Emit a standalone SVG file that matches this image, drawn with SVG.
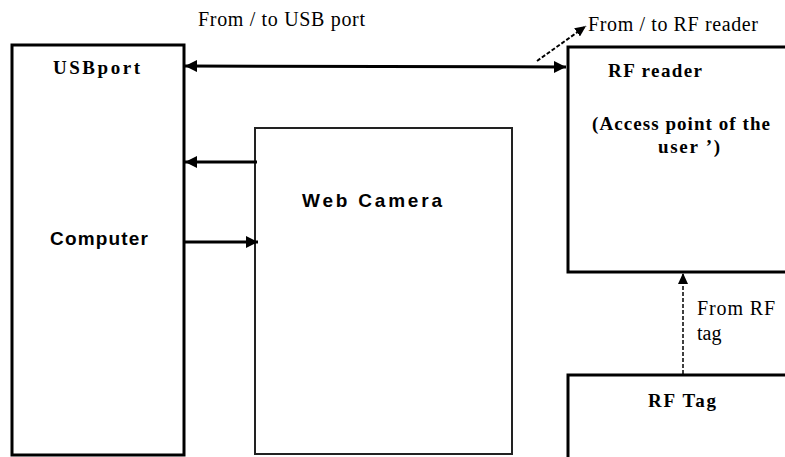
<svg xmlns="http://www.w3.org/2000/svg" width="785" height="457" viewBox="0 0 785 457">
<style>
.box{fill:#fff;stroke:#000;stroke-width:3}
.thin{fill:#fff;stroke:#222;stroke-width:2}
.serifb{font-family:"Liberation Serif","Times New Roman",serif;font-weight:bold;font-size:19px;fill:#000}
.sansb{font-family:"Liberation Sans",Arial,sans-serif;font-weight:bold;font-size:19px;fill:#000}
.serif{font-family:"Liberation Serif","Times New Roman",serif;font-size:20px;fill:#000}
.con{stroke:#000;stroke-width:3;fill:none}
.dash{stroke:#000;stroke-width:1.5;fill:none;stroke-dasharray:4 2}
</style>
<defs>
<marker id="ah" markerUnits="userSpaceOnUse" markerWidth="14" markerHeight="12" refX="12" refY="6" orient="auto-start-reverse">
<path d="M0,0 L12,6 L0,12 Z" fill="#000"/>
</marker>
<marker id="ahs" markerUnits="userSpaceOnUse" markerWidth="12" markerHeight="10" refX="11" refY="5" orient="auto">
<path d="M0,0 L11,5 L0,10 Z" fill="#000"/>
</marker>
</defs>
<g id="computer">
<rect class="box" x="12" y="45" width="172" height="410"/>
<text class="serifb" x="53" y="74" textLength="87" lengthAdjust="spacing">USBport</text>
<text class="sansb" x="50" y="245" textLength="98" lengthAdjust="spacing">Computer</text>
</g>
<g id="webcam">
<rect class="thin" x="255" y="128" width="257" height="326"/>
<text class="sansb" x="302" y="207" textLength="140" lengthAdjust="spacing">Web Camera</text>
</g>
<g id="rfreader">
<rect class="box" x="568" y="47" width="230" height="225"/>
<text class="serifb" x="608" y="77" textLength="94" lengthAdjust="spacing">RF reader</text>
<text class="serifb" x="592" y="130" textLength="178" lengthAdjust="spacing">(Access point of the</text>
<text class="serifb" x="658" y="153" textLength="62" lengthAdjust="spacing">user ’)</text>
</g>
<g id="rftag">
<rect class="box" x="568" y="375" width="230" height="90"/>
<text class="serifb" x="648" y="407" textLength="68" lengthAdjust="spacing">RF Tag</text>
</g>
<g id="connectors">
<line class="con" x1="185" y1="66" x2="566" y2="67" marker-start="url(#ah)" marker-end="url(#ah)"/>
<line class="con" x1="257" y1="162" x2="185" y2="162" marker-end="url(#ah)"/>
<line class="con" x1="185" y1="242" x2="258" y2="242" marker-end="url(#ah)"/>
<line class="dash" x1="537" y1="61" x2="586" y2="26" marker-end="url(#ahs)" style="stroke-width:2"/>
<line class="dash" x1="683" y1="374" x2="683" y2="273" marker-end="url(#ahs)"/>
<text class="serif" x="198" y="26" textLength="167" lengthAdjust="spacing">From / to USB port</text>
<text class="serif" x="588" y="31" textLength="170" lengthAdjust="spacing">From / to RF reader</text>
<text class="serif" x="697" y="315" textLength="78" lengthAdjust="spacing">From RF</text>
<text class="serif" x="697" y="340">tag</text>
</g>
</svg>
